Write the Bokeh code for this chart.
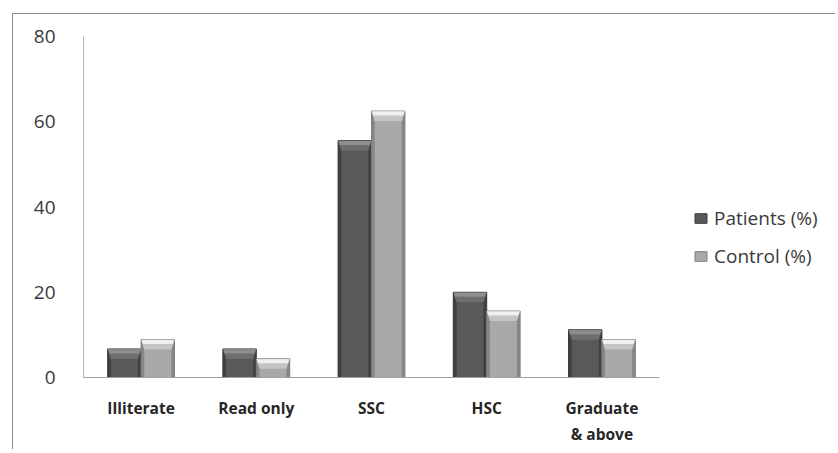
from bokeh.plotting import figure
from bokeh.models import Range1d, FixedTicker, Legend, LegendItem, ColumnDataSource
from bokeh.embed import file_html
from bokeh.resources import INLINE

categories = ["Illiterate", "Read only", "SSC", "HSC", "Graduate\n& above"]
patients = [6.7, 6.7, 55.6, 20.0, 11.2]
control = [8.9, 4.4, 62.5, 15.6, 8.9]
y_ticks = [0, 20, 40, 60, 80]

FONT = "Open Sans"
n = len(categories)
# frame extends past the last category so the legend can sit inside it
x_end = n * (830 - 83) / (659 - 83)

p = figure(width=823, height=436, output_backend="svg", toolbar_location=None,
           x_range=Range1d(0, x_end), y_range=Range1d(0, 80),
           min_border_left=70, min_border_top=22, min_border_right=6, min_border_bottom=73,
           margin=(13, 0, 0, 12),
           styles={"border-top": "1px solid #8c8c8c", "border-left": "1px solid #8c8c8c"})
p.outline_line_color = None
p.grid.visible = False
p.background_fill_color = "white"
p.border_fill_color = "white"

bw = 0.29
off = 0.145
e = 0.028     # side bevel width (x units)
b = 2.35      # top bevel height (y units)

def bar_set(values, shift, main, edge, light, mid):
    xs = [i + 0.5 + shift for i in range(len(values))]
    src = ColumnDataSource(dict(x=xs, top=values))
    r = p.vbar(x="x", top="top", bottom=0, width=bw, source=src,
               fill_color=main, line_color=edge, line_width=1)
    left = [x - bw / 2 for x in xs]
    right = [x + bw / 2 for x in xs]
    p.patches([[l, l + e, l + e, l] for l in left],
              [[0, 0, v - b, v] for v in values], fill_color=edge, line_color=None, fill_alpha=0.8)
    p.patches([[rr, rr - e, rr - e, rr] for rr in right],
              [[0, 0, v - b, v] for v in values], fill_color=edge, line_color=None, fill_alpha=0.8)
    p.patches([[l, rr, rr - e, l + e] for l, rr in zip(left, right)],
              [[v, v, v - b, v - b] for v in values], fill_color=mid, line_color=None)
    p.patches([[l + 0.005, rr - 0.005, rr - 0.015, l + 0.015] for l, rr in zip(left, right)],
              [[v - 0.1, v - 0.1, v - b * 0.45, v - b * 0.45] for v in values],
              fill_color=light, line_color=None)
    return r

r1 = bar_set(patients, -off, "#595959", "#3a3a3a", "#8e8e8e", "#6e6e6e")
r2 = bar_set(control, off, "#a9a9a9", "#7e7e7e", "#f0f0f0", "#c4c4c4")

p.yaxis.ticker = FixedTicker(ticks=y_ticks)
p.yaxis.axis_line_color = "#b4b4b4"
p.yaxis.major_tick_line_color = None
p.yaxis.minor_tick_line_color = None
p.yaxis.major_label_text_font = FONT
p.yaxis.major_label_text_font_size = "19px"
p.yaxis.major_label_text_color = "#3a3a3a"
p.yaxis.major_label_standoff = 22

p.xaxis.ticker = FixedTicker(ticks=[i + 0.5 for i in range(n)])
p.xaxis.major_label_overrides = {i + 0.5: c for i, c in enumerate(categories)}
p.xaxis.bounds = (0, n)
p.xaxis.axis_line_color = "#a0a0a0"
p.xaxis.major_tick_line_color = None
p.xaxis.minor_tick_line_color = None
p.xaxis.major_label_text_font = FONT
p.xaxis.major_label_text_font_style = "bold"
p.xaxis.major_label_text_font_size = "15.5px"
p.xaxis.major_label_text_color = "#262626"
p.xaxis.major_label_standoff = 13

legend = Legend(items=[LegendItem(label="Patients (%)", renderers=[r1]),
                       LegendItem(label="Control (%)", renderers=[r2])],
                location=(610, 108), orientation="vertical")
legend.border_line_color = None
legend.background_fill_alpha = 0
legend.label_text_font = FONT
legend.label_text_font_size = "19px"
legend.label_text_color = "#3a3a3a"
legend.glyph_width = 15
legend.glyph_height = 12
legend.spacing = 12
legend.label_standoff = 6
legend.padding = 0
legend.margin = 0
p.add_layout(legend, "center")

open("out.html", "w").write(file_html(p, INLINE))
